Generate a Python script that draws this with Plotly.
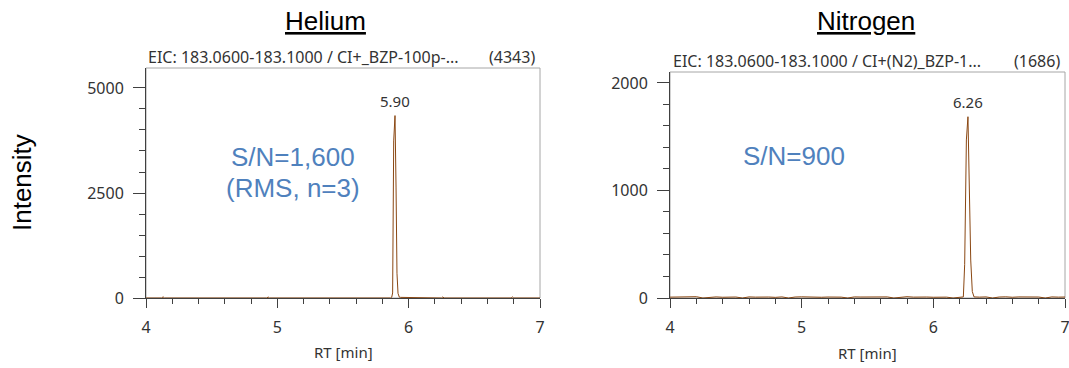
import plotly.graph_objects as go

# ---------------- data ----------------
he_rt = [4.00, 4.12, 4.13, 4.14, 4.92, 4.93, 4.94, 5.863, 5.871, 5.878, 5.886, 5.896,
         5.904, 5.911, 5.919, 5.929, 5.937, 5.95, 5.97, 5.99, 6.01, 6.25, 6.26, 6.27,
         6.78, 6.79, 6.80, 7.00]
he_int = [0, 0, 30, 0, 0, 25, 0, 0, 20, 120, 3740, 4343,
          2620, 590, 110, 20, 15, 15, 15, 15, 0, 0, 25, 0,
          0, 25, 0, 0]

n2_rt = [4.00, 4.05, 4.10, 4.15, 4.20, 4.25, 4.30, 4.35, 4.40, 4.45, 4.50, 4.55, 4.60,
         4.65, 4.70, 4.75, 4.80, 4.85, 4.90, 4.95, 5.00, 5.05, 5.10, 5.15, 5.20, 5.25,
         5.30, 5.35, 5.40, 5.45, 5.50, 5.55, 5.60, 5.65, 5.70, 5.75, 5.80, 5.85, 5.90,
         5.95, 6.00, 6.05, 6.10, 6.15, 6.20, 6.228, 6.238, 6.251, 6.263, 6.273, 6.284,
         6.296, 6.309, 6.35, 6.40, 6.45, 6.50, 6.55, 6.60, 6.65, 6.70, 6.75, 6.80, 6.85,
         6.90, 6.95, 7.00]
n2_int = [8, 10, 6, 9, 12, 0, 8, 10, 7, 11, 9, 0, 10, 8, 12, 9, 6, 10, 0, 9, 11, 8,
          10, 7, 9, 12, 8, 0, 10, 9, 11, 7, 8, 10, 0, 9, 12, 8, 10, 9, 7, 11, 8, 0,
          9, 10, 310, 1470, 1686, 1150, 353, 60, 10, 8, 10, 0, 9, 11, 7, 10, 8, 12, 9,
          0, 10, 8, 9]

he_peak = {"rt": 5.896, "int": 4343, "label": "5.90"}
n2_peak = {"rt": 6.263, "int": 1686, "label": "6.26"}

x_ticks = [4, 5, 6, 7]
he_yticks = [0, 2500, 5000]
n2_yticks = [0, 1000, 2000]

# ---------------- layout geometry ----------------
W, H = 1069, 368
def px(x): return x / W
def py(y): return (H - y) / H

line_col = "#8a4712"
axis_col = "#404040"
tick_font = dict(family="Noto Sans, Open Sans, sans-serif", size=16, color="#333333")
small_font = dict(family="Noto Sans, Open Sans, sans-serif", size=15, color="#333333")
blue = "#4f81bd"
big_font = dict(family="Liberation Sans, Arial", size=26, color="black")
sn_font = dict(family="Liberation Sans, Arial", size=26, color=blue)

fig = go.Figure()
fig.add_trace(go.Scatter(x=he_rt, y=he_int, mode="lines", line=dict(color=line_col, width=1),
                         xaxis="x", yaxis="y", showlegend=False, hoverinfo="skip"))
fig.add_trace(go.Scatter(x=n2_rt, y=n2_int, mode="lines", line=dict(color=line_col, width=1),
                         xaxis="x2", yaxis="y2", showlegend=False, hoverinfo="skip"))

def xaxis(dom, anchor):
    return dict(domain=dom, range=[4, 7], anchor=anchor, tickvals=x_ticks, automargin=False,
                showline=True, linecolor=axis_col, linewidth=1, showgrid=False, zeroline=False,
                ticks="outside", ticklen=9, tickcolor=axis_col, tickwidth=1,
                minor=dict(dtick=0.2, ticks="outside", ticklen=5, tickcolor=axis_col, tickwidth=1),
                tickfont=tick_font, ticklabelstandoff=6, ticklabeloverflow="allow",
                fixedrange=True)

def yaxis(dom, anchor, rng, tv, mdt):
    return dict(domain=dom, range=rng, anchor=anchor, tickvals=tv, automargin=False,
                showline=True, linecolor=axis_col, linewidth=1, showgrid=False, zeroline=False,
                ticks="outside", ticklen=12, tickcolor=axis_col, tickwidth=1,
                minor=dict(dtick=mdt, ticks="outside", ticklen=6, tickcolor=axis_col, tickwidth=1),
                tickfont=tick_font, ticklabelstandoff=6, ticklabeloverflow="allow",
                fixedrange=True)

fig.update_layout(
    width=W, height=H, margin=dict(l=0, r=0, t=0, b=0, autoexpand=False),
    paper_bgcolor="white", plot_bgcolor="white",
    xaxis=xaxis([px(146), px(540)], "y"),
    yaxis=yaxis([py(298), py(68)], "x", [0, 5476], he_yticks, 500),
    xaxis2=xaxis([px(670), px(1065)], "y2"),
    yaxis2=yaxis([py(298), py(72)], "x2", [0, 2102], n2_yticks, 200),
)

# frames (top/right grey border)
for xr, yr in (("x", "y"), ("x2", "y2")):
    fig.add_shape(type="rect", xref=f"{xr} domain", yref=f"{yr} domain", x0=0, x1=1, y0=0, y1=1,
                  line=dict(color="#a6a6a6", width=1), layer="below")

def pa(text, x, y, font, xanchor="center", yanchor="middle", **kw):
    return dict(text=text, x=px(x), y=py(y), xref="paper", yref="paper", showarrow=False,
                xanchor=xanchor, yanchor=yanchor, font=font, **kw)

ann = [
    pa("<u>Helium</u>", 325, 21, big_font),
    pa("<u>Nitrogen</u>", 866, 21, big_font),
    pa("Intensity", 22, 183, big_font, textangle=-90),
    pa("EIC: 183.0600-183.1000 / CI+_BZP-100p-...", 146, 57, tick_font, xanchor="left"),
    pa("(4343)", 537, 57, tick_font, xanchor="right"),
    pa("EIC: 183.0600-183.1000 / CI+(N2)_BZP-1...", 671, 61, tick_font, xanchor="left"),
    pa("(1686)", 1062, 61, tick_font, xanchor="right"),
    pa("RT [min]", 343, 352, small_font),
    pa("RT [min]", 867, 353, small_font),
    pa("S/N=1,600", 293, 157, sn_font),
    pa("(RMS, n=3)", 293, 188, sn_font),
    pa("S/N=900", 794, 156, sn_font),
    dict(text=he_peak["label"], x=he_peak["rt"], y=he_peak["int"], xref="x", yref="y",
         yanchor="bottom", yshift=3, showarrow=False, font=small_font),
    dict(text=n2_peak["label"], x=n2_peak["rt"], y=n2_peak["int"], xref="x2", yref="y2",
         yanchor="bottom", yshift=3, showarrow=False, font=small_font),
]
fig.update_layout(annotations=ann)

fig.write_html("out.html", config={"displayModeBar": False},
               post_script="document.body.style.margin='0';document.body.style.overflow='hidden';")
